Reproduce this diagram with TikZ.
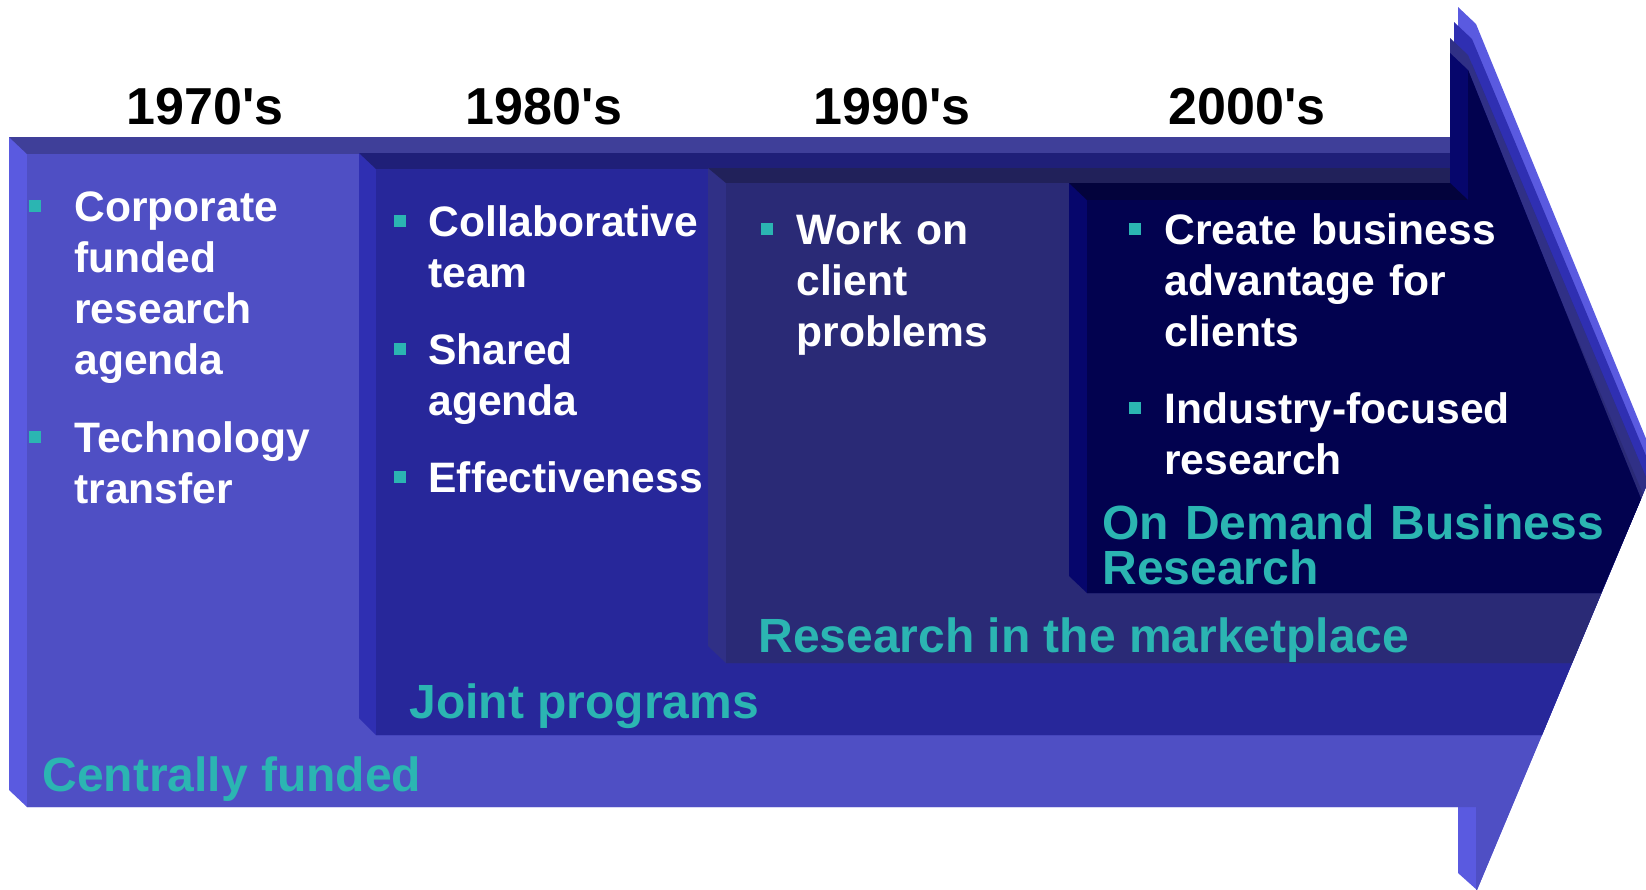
\documentclass[tikz,border=0pt]{standalone}
\usepackage{fontspec}
\setmainfont{Liberation Sans}
\usepackage{tikz}
\definecolor{customteal}{HTML}{2BB5B2}
\definecolor{bandAfront}{HTML}{4F4FC4}
\definecolor{bandAside}{HTML}{5A5AE0}
\definecolor{bandAtop}{HTML}{3F3F99}
\definecolor{bandBfront}{HTML}{27279A}
\definecolor{bandBside}{HTML}{2F2FB2}
\definecolor{bandBtop}{HTML}{1F1F78}
\definecolor{bandCfront}{HTML}{2A2A76}
\definecolor{bandCside}{HTML}{303086}
\definecolor{bandCtop}{HTML}{21215A}
\definecolor{bandDfront}{HTML}{02024F}
\definecolor{bandDside}{HTML}{06066C}
\definecolor{bandDtop}{HTML}{03033C}

\begin{document}
\begin{tikzpicture}[x=0.5pt, y=-0.5pt,
    yearlbl/.style={font=\fontsize{26}{30}\selectfont\bfseries, anchor=base, inner sep=0pt},
    itemtxt/.style={font=\fontsize{21.3}{25.5}\selectfont\bfseries, text=white, anchor=base west, align=left, inner sep=0pt},
    teallbl/.style={font=\fontsize{24}{22.5}\selectfont\bfseries, text=customteal, anchor=base west, align=left, inner sep=0pt},
    bulletsq/.style={fill=customteal, minimum size=6pt, inner sep=0pt}]
    \clip (0,0) rectangle (1646,890);
    % Band 1: centrally funded
    \fill[bandAside] (27,807) -- (9,790) -- (9,137) -- (1458,137) -- (1458,7) -- (1476,24) -- (1656,463) -- (1477,890) -- (1458,873) -- (1458,807) -- cycle;
    \fill[bandAtop] (9,137) -- (1458,137) -- (1476,154) -- (27,154) -- cycle;
    \fill[bandAfront] (27,807) -- (27,154) -- (1476,154) -- (1476,49) -- (1651,475) -- (1477,890) -- (1476,890) -- (1476,807) -- cycle;
    % Band 2: joint programs
    \fill[bandBside] (376,735) -- (359,718) -- (359,153) -- (1454,153) -- (1454,22) -- (1472,39) -- (1652,470) -- (1542,735) -- cycle;
    \fill[bandBtop] (359,153) -- (1454,153) -- (1472,169) -- (376,169) -- cycle;
    \fill[bandBfront] (376,735) -- (376,169) -- (1472,169) -- (1472,64) -- (1648,482) -- (1542,735) -- cycle;
    % Band 3: marketplace
    \fill[bandCside] (726,663) -- (708,646) -- (708,168) -- (1450,168) -- (1450,38) -- (1468,55) -- (1648,482) -- (1572,663) -- cycle;
    \fill[bandCtop] (708,168) -- (1450,168) -- (1468,183) -- (726,183) -- cycle;
    \fill[bandCfront] (726,663) -- (726,183) -- (1468,183) -- (1468,80) -- (1643,494) -- (1572,663) -- cycle;
    % Band 4: on demand
    \fill[bandDside] (1087,593) -- (1069,576) -- (1069,183) -- (1450,183) -- (1450,53) -- (1468,70) -- (1641,499) -- (1601,593) -- cycle;
    \fill[bandDtop] (1069,183) -- (1450,183) -- (1468,200) -- (1087,200) -- cycle;
    \fill[bandDfront] (1087,593) -- (1087,200) -- (1468,200) -- (1468,70) -- (1641,499) -- (1601,593) -- cycle;
    % Decades
    \foreach \x/\yr in {205/1970, 544/1980, 892/1990, 1247/2000}
        \node[yearlbl] (yr\yr) at (\x,124) {\yr\textquotesingle s};
    % Bullets
    \foreach \bx/\by [count=\i] in {35/206, 35/437, 400/221, 400/349, 400/477, 767/229, 1135/229, 1135/408}
        \node[bulletsq] (sq\i) at (\bx,\by) {};
    % Items
    \foreach \tx/\ty/\tw/\txt [count=\i] in {74/221/135pt/{Corporate\\funded\\research\\agenda},
            74/452/135pt/{Technology\\transfer},
            428/236/140pt/{Collaborative\\team},
            428/364/140pt/{Shared\\agenda},
            428/492/140pt/{Effectiveness},
            796/244/110pt/{Work on\\client\\problems},
            1164/244/175pt/{Create business\\advantage for\\clients},
            1164/423/175pt/{Industry-focused\\research}}
        \node[itemtxt, text width=\tw] (it\i) at (\tx,\ty) {\txt};
    % Funding labels
    \node[teallbl] (central) at (42,791) {Centrally funded};
    \node[teallbl] (joint) at (409,718) {Joint programs};
    \node[teallbl] (market) at (758,652) {Research in the marketplace};
    \node[teallbl, text width=260pt] (ondemand) at (1102,539) {On Demand Business\\Research};
\end{tikzpicture}
\end{document}
